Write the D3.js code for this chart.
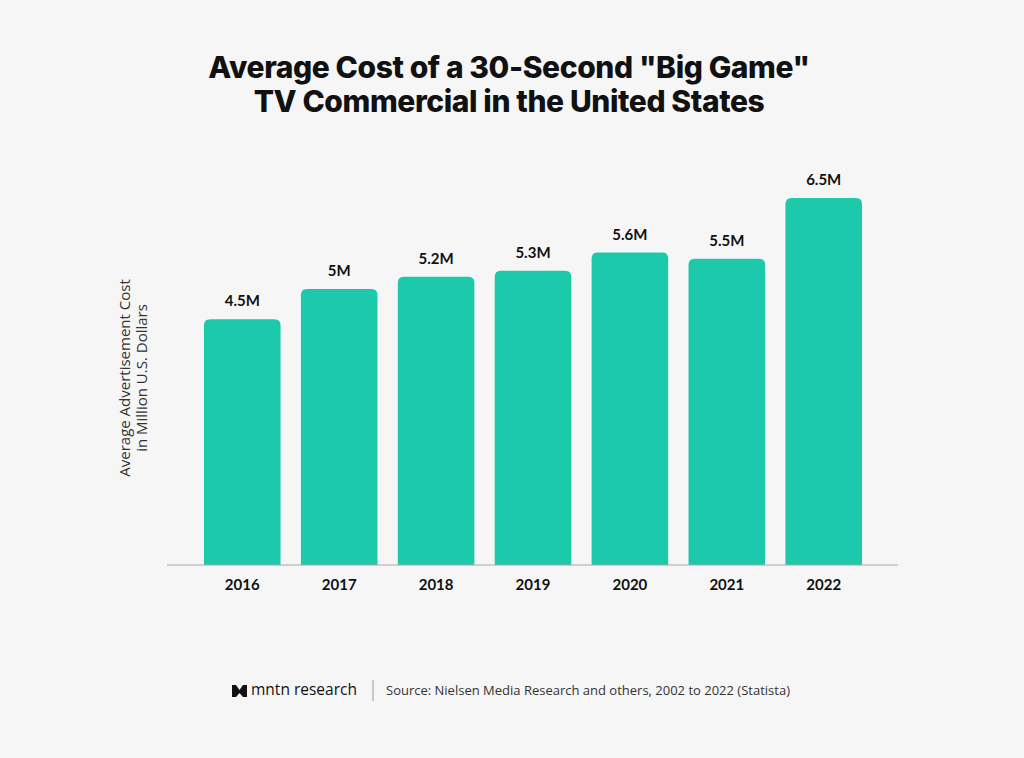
<!DOCTYPE html>
<html>
<head>
<meta charset="utf-8">
<script src="https://cdn.jsdelivr.net/npm/d3@7"></script>
<style>
  body { margin: 0; background: #f6f6f6; }
  svg { display: block; }
</style>
</head>
<body>
<svg id="chart"></svg>
<script>
// Chart data
var years = ["2016", "2017", "2018", "2019", "2020", "2021", "2022"];
var costs = [4.5, 5.0, 5.2, 5.3, 5.6, 5.5, 6.5];
var costLabels = ["4.5M", "5M", "5.2M", "5.3M", "5.6M", "5.5M", "6.5M"];
var titleLines = ["Average Cost of a 30-Second \"Big Game\"", "TV Commercial in the United States"];
var yTitleLines = ["Average Advertisement Cost", "in Million U.S. Dollars"];
var sourceText = "Source: Nielsen Media Research and others, 2002 to 2022 (Statista)";

var screen = {width: 1024, height: 758};
var margins = {top: 198, bottom: 193, left: 167, right: 126};
var graph = {
    width: screen.width - margins.left - margins.right,
    height: screen.height - margins.top - margins.bottom
};

var svg = d3.select("#chart")
    .attr("width", screen.width)
    .attr("height", screen.height);

svg.append("rect")
    .attr("width", screen.width)
    .attr("height", screen.height)
    .attr("fill", "#f6f6f6");

// Title
svg.append("g")
    .selectAll("text")
    .data(titleLines)
    .enter()
    .append("text")
    .attr("x", 509)
    .attr("y", function(d, i) { return 78 + i * 34; })
    .attr("text-anchor", "middle")
    .attr("font-family", "Inter, sans-serif")
    .attr("font-weight", 800)
    .attr("font-size", 30)
    .attr("letter-spacing", -0.4)
    .attr("fill", "#111")
    .text(function(d) { return d; });

var g = svg.append("g")
    .attr("transform", "translate(" + margins.left + "," + margins.top + ")");

var xScale = d3.scaleBand()
    .domain(years)
    .range([37, 695])
    .paddingInner(0.21)
    .paddingOuter(0);

var yScale = d3.scaleLinear()
    .domain([0.45, 6.5])
    .range([graph.height, 0]);

var data = years.map(function(y, i) {
    return {year: y, value: costs[i], label: costLabels[i]};
});

// bar with rounded top corners
var barPath = function(d) {
    var x0 = xScale(d.year), w = xScale.bandwidth();
    var y0 = yScale(d.value), y1 = yScale.range()[0];
    var r = 6;
    return "M" + x0 + "," + y1 +
        "V" + (y0 + r) +
        "Q" + x0 + "," + y0 + " " + (x0 + r) + "," + y0 +
        "H" + (x0 + w - r) +
        "Q" + (x0 + w) + "," + y0 + " " + (x0 + w) + "," + (y0 + r) +
        "V" + y1 + "Z";
};

g.selectAll(".bar")
    .data(data)
    .enter()
    .append("path")
    .classed("bar", true)
    .attr("d", barPath)
    .attr("fill", "#1cc9aa");

g.selectAll(".value")
    .data(data)
    .enter()
    .append("text")
    .classed("value", true)
    .attr("x", function(d) { return xScale(d.year) + xScale.bandwidth() / 2; })
    .attr("y", function(d) { return yScale(d.value) - 13; })
    .attr("text-anchor", "middle")
    .attr("font-family", "Lato, sans-serif")
    .attr("font-weight", 700)
    .attr("font-size", 15)
    .attr("fill", "#111")
    .text(function(d) { return d.label; });

// x axis
var xAxis = d3.axisBottom(xScale).tickSize(0).tickPadding(14);
var axisG = g.append("g")
    .attr("transform", "translate(0," + graph.height + ")")
    .call(xAxis);
axisG.select(".domain").remove();
axisG.append("line")
    .attr("x1", 0)
    .attr("x2", graph.width)
    .attr("stroke", "#a8a8a8")
    .attr("stroke-width", 1.2);
axisG.selectAll(".tick text")
    .attr("font-family", "Lato, sans-serif")
    .attr("font-weight", 700)
    .attr("font-size", 15)
    .attr("fill", "#111");

// y title
svg.append("g")
    .attr("transform", "translate(130,378) rotate(-90)")
    .selectAll("text")
    .data(yTitleLines)
    .enter()
    .append("text")
    .attr("x", 0)
    .attr("y", function(d, i) { return i * 17; })
    .attr("text-anchor", "middle")
    .attr("font-family", "'Open Sans', sans-serif")
    .attr("font-size", 15)
    .attr("fill", "#333")
    .text(function(d) { return d; });

// footer
var footer = svg.append("g");
footer.append("path")
    .attr("d", "M232,697 V685 L236,685 L239.5,690 L243,685 L247,685 V697 L243,697 L239.5,693 L236,697 Z")
    .attr("fill", "#111");
footer.append("text")
    .attr("x", 251)
    .attr("y", 695)
    .attr("font-family", "'Open Sans', sans-serif")
    .attr("font-size", 15.5)
    .attr("fill", "#111")
    .text("mntn research");
footer.append("line")
    .attr("x1", 373).attr("x2", 373)
    .attr("y1", 680).attr("y2", 701)
    .attr("stroke", "#999");
footer.append("text")
    .attr("x", 386)
    .attr("y", 695)
    .attr("font-family", "'Open Sans', sans-serif")
    .attr("font-size", 13)
    .attr("fill", "#333")
    .text(sourceText);
</script>
</body>
</html>
